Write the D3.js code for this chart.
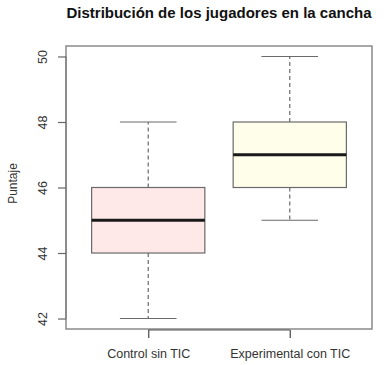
<!DOCTYPE html>
<html>
<head>
<meta charset="utf-8">
<script src="https://cdn.jsdelivr.net/npm/d3@7"></script>
<style>
  body { margin: 0; background: #fff; }
  svg { display: block; font-family: "Liberation Sans", Arial, Helvetica, sans-serif; }
</style>
</head>
<body>
<svg id="chart" width="385" height="365"></svg>
<script>
const categories = ["Control sin TIC", "Experimental con TIC"];
const mins    = [42, 45];
const q1s     = [44, 46];
const medians = [45, 47];
const q3s     = [46, 48];
const maxs    = [48, 50];
const fills   = ["#ffe8e8", "#fefeea"];
const yTicks  = [42, 44, 46, 48, 50];
const title   = "Distribución de los jugadores en la cancha";
const yLabel  = "Puntaje";

const svg = d3.select("#chart");
const L = 66, R = 372, T = 46, B = 329;

const x = d3.scalePoint().domain(categories).range([L, R]).padding(0.581);
const y = d3.scaleLinear().domain([41.68, 50.32]).range([B, T]);
const half = x.step() * 0.4;
const capHalf = half / 2;

const data = categories.map((c, i) => ({
  c, min: mins[i], q1: q1s[i], med: medians[i], q3: q3s[i], max: maxs[i], fill: fills[i]
}));

const g = svg.append("g");
const lineCol = "#6a6a6a";

data.forEach(d => {
  const cx = x(d.c);
  g.append("line").attr("x1", cx).attr("x2", cx).attr("y1", y(d.q3)).attr("y2", y(d.max))
    .attr("stroke", lineCol).attr("stroke-width", 1.2).attr("stroke-dasharray", "4,3");
  g.append("line").attr("x1", cx).attr("x2", cx).attr("y1", y(d.q1)).attr("y2", y(d.min))
    .attr("stroke", lineCol).attr("stroke-width", 1.2).attr("stroke-dasharray", "4,3");
  [d.min, d.max].forEach(v => {
    g.append("line").attr("x1", cx - capHalf).attr("x2", cx + capHalf).attr("y1", y(v)).attr("y2", y(v))
      .attr("stroke", lineCol).attr("stroke-width", 1.2);
  });
  g.append("rect").attr("x", cx - half).attr("y", y(d.q3)).attr("width", 2 * half)
    .attr("height", y(d.q1) - y(d.q3)).attr("fill", d.fill)
    .attr("stroke", lineCol).attr("stroke-width", 1.2);
  g.append("line").attr("x1", cx - half).attr("x2", cx + half).attr("y1", y(d.med)).attr("y2", y(d.med))
    .attr("stroke", "#1a1a1a").attr("stroke-width", 2.8);
});

// frame
svg.append("rect").attr("x", L).attr("y", T).attr("width", R - L).attr("height", B - T)
  .attr("fill", "none").attr("stroke", "#8a8a8a").attr("stroke-width", 1.5);

// y axis
const yAxis = svg.append("g").attr("transform", `translate(${L},0)`)
  .call(d3.axisLeft(y).tickValues(yTicks).tickSize(8).tickFormat(d3.format("d")));
yAxis.select(".domain").attr("stroke", "#7a7a7a").attr("stroke-width", 1.2)
  .attr("d", `M0,${y(42)}V${y(50)}`);
yAxis.selectAll(".tick line").attr("stroke", "#666").attr("stroke-width", 1.2);
yAxis.selectAll(".tick text")
  .attr("transform", "rotate(-90)")
  .attr("x", 0).attr("y", -19).attr("dy", 0)
  .attr("text-anchor", "middle")
  .attr("fill", "#333").style("font-size", "12.5px")
  .style("font-family", '"Liberation Sans", Arial, sans-serif');

// x axis
const xAxis = svg.append("g").attr("transform", `translate(0,${B + 1})`)
  .call(d3.axisBottom(x).tickSize(0));
xAxis.select(".domain").attr("stroke", "#555").attr("stroke-width", 1.2)
  .attr("d", `M${x(categories[0])},0H${x(categories[1])}`);
xAxis.selectAll(".tick").append("line")
  .attr("x1", 0).attr("x2", 0).attr("y1", 0).attr("y2", 8)
  .attr("stroke", "#555").attr("stroke-width", 1.3);
xAxis.selectAll(".tick text").attr("y", 28).attr("dy", 0)
  .attr("fill", "#333").style("font-size", "12.5px")
  .style("font-family", '"Liberation Sans", Arial, sans-serif');

// title
svg.append("text").attr("x", (L + R) / 2).attr("y", 18).attr("text-anchor", "middle")
  .style("font-size", "15px").style("font-weight", "bold").attr("fill", "#111")
  .text(title);

// y label
svg.append("text").attr("transform", `translate(17,${(T + B) / 2 - 4}) rotate(-90)`)
  .attr("text-anchor", "middle").style("font-size", "12px").attr("fill", "#333")
  .text(yLabel);
</script>
</body>
</html>
